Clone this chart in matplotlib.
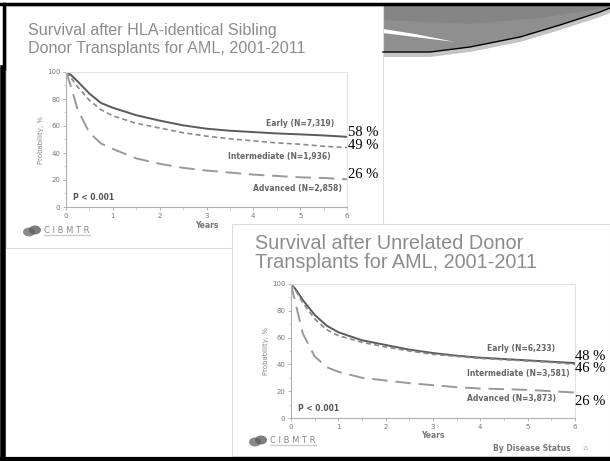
import numpy as np
import matplotlib
matplotlib.use("Agg")
import matplotlib.pyplot as plt
from matplotlib.patches import Rectangle, Polygon, Ellipse

W, H = 610, 461

years = [0, 0.1, 0.25, 0.5, 0.75, 1, 1.5, 2, 2.5, 3, 3.5, 4, 4.5, 5, 5.5, 6]

sib_early = [100, 98, 93, 84, 77, 73.5, 68, 64, 60.5, 58, 56.5, 55.5, 54.5, 53.8, 53, 52]
sib_inter = [100, 96, 89, 79, 72, 67.5, 62, 58.5, 55, 52.5, 50.5, 49, 47.5, 46.5, 45, 44]
sib_adv = [100, 90, 72, 55, 47, 43, 36, 32, 29, 27, 25.5, 24, 23, 22, 21.5, 20.5]

unr_early = [100, 96, 88, 77, 69, 64, 58, 54.5, 51, 48.5, 46.5, 45, 44, 43, 42, 41]
unr_inter = [100, 95, 86, 74, 66, 61.5, 56.5, 53, 50, 47.5, 46, 44.5, 43.5, 42.5, 41.5, 40]
unr_adv = [100, 85, 63, 46, 38, 34.5, 30, 28, 26, 24.5, 23, 22, 21.5, 21, 20, 19]

sib_labels = ["Early (N=7,319)", "Intermediate (N=1,936)", "Advanced (N=2,858)"]
unr_labels = ["Early (N=6,233)", "Intermediate (N=3,581)", "Advanced (N=3,873)"]
sib_pct = ["58 %", "49 %", "26 %"]
unr_pct = ["48 %", "46 %", "26 %"]


def box(l, t, r, b):
    return [l / W, 1 - b / H, (r - l) / W, (b - t) / H]


fig = plt.figure(figsize=(W / 100, H / 100), dpi=100)
bg = fig.add_axes([0, 0, 1, 1], zorder=0)
bg.set_xlim(0, W)
bg.set_ylim(H, 0)
bg.axis("off")

# adorno gris de la diapositiva (arriba a la derecha)
cx = [383, 430, 470, 520, 560, 600, 610]
cy = [52, 52, 47, 37, 25, 12, 8]
bg.add_patch(Polygon(list(zip(cx, [y + 5 for y in cy])) + [(610, 4)][:0] + list(zip(cx[::-1], cy[::-1])),
                     closed=True, fc="#c4c4c4", ec="none"))
bg.add_patch(Polygon([(383, 5), (610, 5)] + list(zip(cx[::-1], cy[::-1])),
                     closed=True, fc="#8f8f8f", ec="none"))
bg.add_patch(Polygon([(383, 5), (610, 5), (610, 7), (540, 18), (470, 24), (383, 20)],
                     closed=True, fc="#858585", ec="none"))
bg.add_patch(Polygon([(383, 29), (415, 34), (455, 42), (415, 37), (383, 33)],
                     closed=True, fc="white", ec="none"))
bg.plot(cx, cy, color="black", lw=1)
# bordes negros
bg.plot([0, W], [4, 4], color="black", lw=2.5)
bg.plot([4, 4], [4, 68], color="black", lw=2.5)
bg.plot([3, 3], [68, 459], color="black", lw=4)
bg.plot([0, W], [459, 459], color="black", lw=3)

# paneles blancos de las dos imagenes
bg.add_patch(Rectangle((6, 6), 377, 242, fc="white", ec="#dddddd", lw=0.8))
bg.add_patch(Rectangle((232, 224), 378, 232, fc="white", ec="#dddddd", lw=0.8))

gray_t = "#8c8c8c"
bg.text(28, 31, "Survival after HLA-identical Sibling", fontsize=11.6, color=gray_t,
        family="Liberation Sans", va="center")
bg.text(28, 48, "Donor Transplants for AML, 2001-2011", fontsize=11.6, color=gray_t,
        family="Liberation Sans", va="center")
bg.text(255, 243, "Survival after Unrelated Donor", fontsize=14.3, color=gray_t,
        family="Liberation Sans", va="center")
bg.text(255, 262, "Transplants for AML, 2001-2011", fontsize=14.3, color=gray_t,
        family="Liberation Sans", va="center")


def logo(x, y):
    bg.add_patch(Ellipse((x + 5, y + 1), 12, 9, fc="#8a8a8a", ec="none"))
    bg.add_patch(Ellipse((x + 11, y - 1), 12, 9, fc="#5e5e5e", ec="none", alpha=0.8))
    bg.text(x + 20, y - 1, "C I B M T R", fontsize=6, color="#888888", family="DejaVu Sans",
            va="center")
    bg.plot([x + 20, x + 66], [y + 4, y + 4], color="#cccccc", lw=1)


logo(24, 231)
logo(250, 441)

bg.text(493, 448, "By Disease Status", fontsize=5.5, color="#777777", va="center", fontweight="bold")
bg.text(583, 448, "25", fontsize=3.5, color="#aaaaaa", va="center")


def panel(rect, e, i, a, labels, pct, lab_pos, pct_pos, years_y):
    ax = fig.add_axes(box(*rect), zorder=2)
    ax.patch.set_alpha(0)
    ax.plot(years, e, color="#5a5a5a", lw=1.4)
    ax.plot(years, i, color="#8a8a8a", lw=1.2, dashes=(3, 2))
    ax.plot(years, a, color="#999999", lw=1.4, dashes=(8, 4))
    ax.set_xlim(0, 6)
    ax.set_ylim(0, 100)
    ax.set_xticks(range(7))
    ax.set_xticks(np.arange(0.5, 6, 1), minor=True)
    ax.set_yticks(range(0, 101, 20))
    ax.set_yticks(range(10, 100, 20), minor=True)
    ax.tick_params(labelsize=5, colors="#aaaaaa", labelcolor="#777777", length=2.5, width=0.6, pad=1.5)
    ax.tick_params(which="minor", length=1.8, width=0.5, colors="#bbbbbb")
    for s in ["left", "bottom"]:
        ax.spines[s].set_color("#b0b0b0")
        ax.spines[s].set_linewidth(0.8)
    for s in ["top", "right"]:
        ax.spines[s].set_color("#e2e2e2")
        ax.spines[s].set_linewidth(0.8)
    ax.set_ylabel("Probability, %", fontsize=5, color="#888888", labelpad=2)
    ax.text(3, years_y, "Years", fontsize=5.5, color="#777777", ha="center", va="center",
            fontweight="bold", transform=ax.transData, clip_on=False)
    for lab, (x, y) in zip(labels, lab_pos):
        ax.text(x, y, lab, fontsize=5.5, color="#666666", fontweight="bold", ha="center", va="center")
    ax.text(0.15, 7, "P < 0.001", fontsize=5.5, color="#555555", fontweight="bold", va="center")
    for p, (x, y) in zip(pct, pct_pos):
        ax.text(x, y, p, fontsize=10.5, color="black", family="Liberation Serif",
                va="center", ha="left", clip_on=False)
    return ax


panel((66, 72, 347, 207), sib_early, sib_inter, sib_adv, sib_labels, sib_pct,
      [(5.0, 62), (4.55, 37.5), (4.95, 14)],
      [(6.02, 55.5), (6.02, 45.5), (6.02, 24)], -14)
panel((291, 284, 575, 418), unr_early, unr_inter, unr_adv, unr_labels, unr_pct,
      [(4.85, 52), (4.8, 33.5), (4.65, 14.5)],
      [(6.0, 46), (6.0, 37), (6.0, 12)], -13)

fig.savefig("out.png", dpi=100)
